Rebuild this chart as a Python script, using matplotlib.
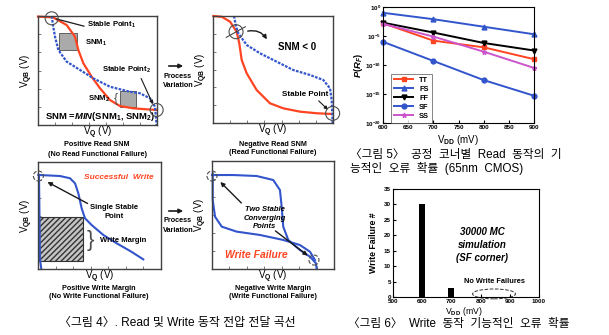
import numpy as np
import matplotlib
matplotlib.use("Agg")
import matplotlib.pyplot as plt
from matplotlib.patches import Rectangle, Ellipse, FancyArrowPatch

plt.rcParams['font.family'] = ['Liberation Sans', 'Noto Sans CJK KR', 'DejaVu Sans']
plt.rcParams['mathtext.fontset'] = 'custom'
plt.rcParams['mathtext.rm'] = 'Liberation Sans:bold'
plt.rcParams['mathtext.it'] = 'Liberation Sans:italic:bold'
plt.rcParams['mathtext.bf'] = 'Liberation Sans:bold'
plt.rcParams['mathtext.default'] = 'rm'

# ---- schematic butterfly curves (normalised axes coordinates) ----
p1_red_x = [0.0, 0.126, 0.241, 0.311, 0.339, 0.381, 0.451, 0.521, 0.605, 0.689, 0.801, 0.913, 1.0]
p1_red_y = [0.994, 0.988, 0.917, 0.81, 0.688, 0.566, 0.443, 0.337, 0.229, 0.174, 0.153, 0.144, 0.138]
p1_blue_x = [0.115, 0.128, 0.143, 0.171, 0.241, 0.353, 0.465, 0.605, 0.773, 0.857, 0.941, 0.983, 0.997]
p1_blue_y = [1.0, 0.902, 0.81, 0.688, 0.581, 0.505, 0.428, 0.351, 0.305, 0.291, 0.245, 0.168, 0.0]

p2_red_x = [0.003, 0.072, 0.142, 0.197, 0.219, 0.239, 0.281, 0.364, 0.475, 0.586, 0.725, 0.864, 0.997]
p2_red_y = [1.0, 0.993, 0.947, 0.853, 0.745, 0.589, 0.464, 0.308, 0.184, 0.137, 0.106, 0.091, 0.084]
p2_blue_x = [0.175, 0.192, 0.211, 0.281, 0.392, 0.531, 0.669, 0.808, 0.919, 0.975, 0.989, 0.997]
p2_blue_y = [1.0, 0.9, 0.838, 0.729, 0.651, 0.573, 0.495, 0.449, 0.402, 0.324, 0.215, 0.0]

p3_a_x = [0.003, 0.179, 0.26, 0.301, 0.328, 0.355, 0.382, 0.436, 0.531, 0.64, 0.76, 0.856]
p3_a_y = [0.879, 0.869, 0.848, 0.801, 0.707, 0.567, 0.474, 0.411, 0.318, 0.24, 0.161, 0.09]
p3_b_x = [0.008, 0.012, 0.016, 0.027]
p3_b_y = [0.879, 0.49, 0.09, 0.0]

p4_a_x = [0.0, 0.175, 0.366, 0.502, 0.557, 0.571, 0.584, 0.625, 0.721, 0.803, 0.852, 0.858]
p4_a_y = [0.87, 0.87, 0.861, 0.824, 0.731, 0.577, 0.392, 0.269, 0.176, 0.114, 0.053, 0.0]
p4_b_x = [0.006, 0.006, 0.025, 0.08, 0.202, 0.393, 0.584, 0.721, 0.803, 0.844]
p4_b_y = [0.886, 0.639, 0.484, 0.392, 0.346, 0.315, 0.269, 0.222, 0.16, 0.083]

# ---- read failure probability per corner (log10) ----
vdd = [600, 700, 800, 900]
corners = ['TT', 'FS', 'FF', 'SF', 'SS']
log_p = {
    'TT': [-2.8, -5.8, -6.95, -9.0],
    'FS': [-1.0, -2.1, -3.4, -4.7],
    'FF': [-2.7, -4.4, -6.2, -7.5],
    'SF': [-6.0, -9.3, -12.6, -15.3],
    'SS': [-2.9, -5.1, -7.7, -10.5],
}

# ---- write failures, 30000 MC ----
bar_vdd = [600, 700]
bar_fail = [30, 3]

W, H = 609, 335
fig = plt.figure(figsize=(W / 100, H / 100), dpi=100)
fig.patch.set_facecolor('white')


def fp(x, y):
    return (x / W, 1 - y / H)


def box(x0, y0, x1, y1):
    return fig.add_axes([x0 / W, 1 - y1 / H, (x1 - x0) / W, (y1 - y0) / H])


def schem(x0, y0, x1, y1):
    ax = box(x0, y0, x1, y1)
    ax.set_xlim(0, 1)
    ax.set_ylim(0, 1)
    ax.set_xticks(np.linspace(0, 1, 8)[1:-1])
    ax.set_yticks(np.linspace(0, 1, 7)[1:-1])
    ax.tick_params(direction='in', length=2.5, labelleft=False, labelbottom=False,
                   width=0.6, color='0.4')
    for s in ax.spines.values():
        s.set_linewidth(1.0)
        s.set_color('0.25')
    fig.text(*fp(x0 - 11, (y0 + y1) / 2), 'V$_{QB}$ (V)', fontsize=7, rotation=90,
             ha='center', va='center')
    fig.text(*fp((x0 + x1) / 2, y1 + 8), 'V$_{Q}$ (V)', fontsize=7,
             ha='center', va='center')
    return ax, x1 - x0, y1 - y0


def circ(ax, x, y, r, w, h, ls='-'):
    ax.add_patch(Ellipse((x, y), 2 * r / w, 2 * r / h, fill=False, ec='0.3',
                         lw=0.8, ls=ls, clip_on=False, zorder=5))


def sub(x, y, s):
    fig.text(*fp(x, y), s, fontsize=5.2, fontweight='bold', ha='center', va='center')


red = '#ff4422'
blue = '#3355cc'
dotted = (0, (1.2, 0.6))

# panel 1
ax, w, h = schem(38, 16, 157, 125)
ax.plot(p1_red_x, p1_red_y, color=red, lw=1.6, clip_on=False)
ax.plot(p1_blue_x, p1_blue_y, color=blue, lw=1.6, ls=dotted, clip_on=False)
ax.add_patch(Rectangle((0.18, 0.69), 0.15, 0.15, fc='#aaaaaa', ec='0.3', lw=0.6))
ax.add_patch(Rectangle((0.689, 0.162), 0.135, 0.153, fc='#aaaaaa', ec='0.3', lw=0.6))
ax.text(0.395, 0.75, 'SNM$_1$', fontsize=5.5, fontweight='bold', va='center')
ax.text(0.423, 0.235, 'SNM$_2$', fontsize=5.5, fontweight='bold', va='center')
ax.text(0.64, 0.235, '{', fontsize=9, va='center', color='0.3')
ax.text(0.41, 0.92, 'Stable Point$_1$', fontsize=5.5, fontweight='bold', va='center')
ax.annotate('', xy=(0.13, 0.98), xytext=(0.41, 0.9),
            arrowprops=dict(arrowstyle='-', lw=0.9, color='0.1'))
ax.text(0.535, 0.505, 'Stable Point$_2$', fontsize=5.5, fontweight='bold', va='center')
ax.annotate('', xy=(0.975, 0.168), xytext=(0.857, 0.45),
            arrowprops=dict(arrowstyle='-|>', lw=0.8, color='0.1', mutation_scale=5))
circ(ax, 0.115, 0.979, 6.5, w, h)
circ(ax, 0.997, 0.138, 6.5, w, h)
ax.text(0.52, 0.076, 'SNM =$\\mathit{MIN}$(SNM$_1$, SNM$_2$)', fontsize=6.8,
        fontweight='bold', ha='center', va='center')
sub(97, 145, 'Positive Read SNM')
sub(97, 154, '(No Read Functional Failure)')

# panel 2
ax, w, h = schem(213, 16, 333, 123)
ax.plot(p2_red_x, p2_red_y, color=red, lw=1.6, clip_on=False)
ax.plot(p2_blue_x, p2_blue_y, color=blue, lw=1.6, ls=dotted, clip_on=False)
circ(ax, 0.192, 0.853, 7, w, h)
ax.plot([0.11, 0.27], [0.8, 0.9], color='0.2', lw=0.7)
ax.annotate('', xy=(0.461, 0.76), xytext=(0.267, 0.853),
            arrowprops=dict(arrowstyle='-|>', lw=1.0, color='0.1', mutation_scale=6,
                            connectionstyle='arc3,rad=-0.4'))
ax.text(0.697, 0.713, 'SNM < 0', fontsize=7, fontweight='bold', ha='center', va='center')
ax.text(0.767, 0.268, 'Stable Point', fontsize=5.8, fontweight='bold', ha='center', va='center')
ax.annotate('', xy=(0.975, 0.106), xytext=(0.864, 0.225),
            arrowprops=dict(arrowstyle='-|>', lw=0.8, color='0.1', mutation_scale=5))
circ(ax, 0.997, 0.09, 7, w, h)
sub(273, 144, 'Negative Read SNM')
sub(273, 153, '(Read Functional Failure)')

# panel 3
ax, w, h = schem(38, 162, 161, 269)
ax.add_patch(Rectangle((0.008, 0.075), 0.36, 0.414, fc='#c4c4c4', ec='0.2', lw=0.8,
                       hatch='//////'))
ax.plot(p3_a_x, p3_a_y, color=blue, lw=1.5, clip_on=False)
ax.plot(p3_b_x, p3_b_y, color=blue, lw=1.5, clip_on=False)
circ(ax, 0.003, 0.869, 5, w, h, ls='--')
ax.text(0.653, 0.857, 'Successful  Write', fontsize=6, fontweight='bold', style='italic',
        color=red, ha='center', va='center')
ax.text(0.62, 0.536, 'Single Stable\nPoint', fontsize=5.5, fontweight='bold',
        ha='center', va='center', linespacing=1.4)
ax.annotate('', xy=(0.057, 0.825), xytext=(0.423, 0.6),
            arrowprops=dict(arrowstyle='-|>', lw=1.0, color='0.1', mutation_scale=6))
ax.text(0.395, 0.271, '}', fontsize=16, va='center', color='0.3')
ax.text(0.5, 0.271, 'Write Margin', fontsize=5.5, fontweight='bold', va='center')
sub(99, 289, 'Positive Write Margin')
sub(99, 297, '(No Write Functional Failure)')

# panel 4
ax, w, h = schem(212, 161, 334, 269)
ax.plot(p4_a_x, p4_a_y, color=blue, lw=1.5, clip_on=False)
ax.plot(p4_b_x, p4_b_y, color=blue, lw=1.5, clip_on=False)
circ(ax, 0.0, 0.861, 5, w, h, ls='--')
circ(ax, 0.836, 0.083, 5, w, h, ls='--')
ax.text(0.43, 0.469, 'Two Stable\nConverging\nPoints', fontsize=5.5, fontweight='bold',
        style='italic', ha='center', va='center', linespacing=1.3)
ax.annotate('', xy=(0.052, 0.824), xytext=(0.257, 0.593),
            arrowprops=dict(arrowstyle='-|>', lw=1.0, color='0.1', mutation_scale=6))
ax.annotate('', xy=(0.803, 0.108), xytext=(0.502, 0.368),
            arrowprops=dict(arrowstyle='-|>', lw=1.0, color='0.1', mutation_scale=6))
ax.text(0.361, 0.13, 'Write Failure', fontsize=7.5, fontweight='bold', style='italic',
        color=red, ha='center', va='center')
sub(273, 289, 'Negative Write Margin')
sub(273, 297, '(Write Functional Failure)')

# process variation arrows
for ya, yt in [(66, 76), (211, 221)]:
    fig.add_artist(FancyArrowPatch(fp(166, ya), fp(186, ya), transform=fig.transFigure,
                                   arrowstyle='-|>', mutation_scale=6, lw=1.2, color='0.1'))
    sub(178, yt, 'Process')
    sub(178, yt + 9, 'Variation')

fig.text(*fp(177, 323), '〈그림 4〉. Read 및 Write 동작 전압 전달 곡선', fontsize=8.6,
         ha='center', va='center')

# panel 5: read failure probability
ax = box(383, 7, 534, 123)
styles = {
    'TT': dict(color='#ff4422', marker='s'),
    'FS': dict(color='#3355cc', marker='^'),
    'FF': dict(color='black', marker='v'),
    'SF': dict(color='#3355cc', marker='o'),
    'SS': dict(color='#cc55cc', marker='*'),
}
for c in corners:
    ax.plot(vdd, 10.0 ** np.array(log_p[c]), lw=1.4, ms=3.5, label=c, clip_on=False, **styles[c])
ax.set_yscale('log')
ax.set_ylim(1e-20, 1)
ax.set_xlim(600, 900)
ax.set_xticks([600, 650, 700, 750, 800, 850, 900])
ax.set_yticks([1e-20, 1e-15, 1e-10, 1e-5, 1])
ax.set_yticklabels(['$10^{-20}$', '$10^{-15}$', '$10^{-10}$', '$10^{-5}$', '$10^{0}$'])
ax.minorticks_off()
ax.tick_params(labelsize=4.5, length=2, direction='in', pad=1.5)
for lab in ax.get_xticklabels():
    lab.set_fontweight('bold')
fig.text(*fp(458, 140), 'V$_{DD}$ (mV)', fontsize=7, ha='center', va='center')
fig.text(*fp(359, 65), '$\\mathit{P(R_F)}$', fontsize=6.8, rotation=90, ha='center', va='center')
leg = ax.legend(loc='upper left', bbox_to_anchor=(0.03, 0.455), fontsize=5.3,
                frameon=True, fancybox=False, edgecolor='0.3', handlelength=2.6,
                labelspacing=0.25, borderpad=0.4, handletextpad=0.8)
leg.get_frame().set_linewidth(0.6)
for t in leg.get_texts():
    t.set_fontweight('bold')
fig.text(*fp(350, 155), '〈그림 5〉  공정  코너별  Read  동작의  기', fontsize=8.4, ha='left', va='center')
fig.text(*fp(350, 168), '능적인  오류  확률  (65nm  CMOS)', fontsize=8.4, ha='left', va='center')

# panel 6: write failures
ax = box(393, 189, 539, 297)
ax.bar(bar_vdd, bar_fail, width=20, color='black')
ax.set_xlim(500, 1000)
ax.set_ylim(0, 35)
ax.set_xticks(range(500, 1001, 100))
ax.set_yticks(range(0, 36, 5))
ax.tick_params(labelsize=4.5, length=2, direction='in', pad=1.5)
for lab in ax.get_xticklabels() + ax.get_yticklabels():
    lab.set_fontweight('bold')
fig.text(*fp(464, 311), 'V$_{DD}$ (mV)', fontsize=6.2, ha='center', va='center')
fig.text(*fp(373, 243), 'Write Failure #', fontsize=6.3, fontweight='bold', rotation=90,
         ha='center', va='center')
for y, s in [(21.1, '30000 MC'), (16.9, 'simulation'), (12.6, '(SF corner)')]:
    ax.text(805, y, s, fontsize=7, fontweight='bold', style='italic', ha='center', va='center')
ax.text(849, 4.9, 'No Write Failures', fontsize=5.3, fontweight='bold', ha='center', va='center')
ax.add_patch(Ellipse((846, 1.0), 147, 3.2, fill=False, ls='--', lw=0.7, ec='0.2', clip_on=False))
fig.text(*fp(348, 324), '〈그림 6〉  Write  동작  기능적인  오류  확률', fontsize=8.4, ha='left', va='center')

fig.savefig('out.png', dpi=100, facecolor='white')
